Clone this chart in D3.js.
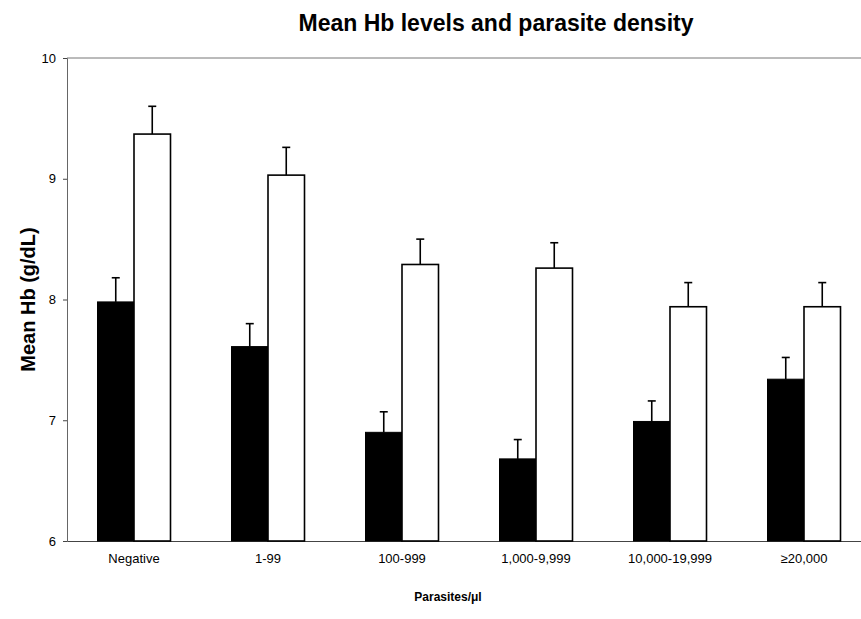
<!DOCTYPE html>
<html>
<head>
<meta charset="utf-8">
<script src="https://cdn.jsdelivr.net/npm/d3@7"></script>
<style>
  body { margin: 0; background: #fff; }
  text { font-family: "Liberation Sans", Arial, sans-serif; fill: #000; }
</style>
</head>
<body>
<div id="chart"></div>
<script>
//data
var categories = ["Negative", "1-99", "100-999", "1,000-9,999", "10,000-19,999", "\u226520,000"];
var darkMeans = [7.98, 7.61, 6.90, 6.68, 6.99, 7.34];
var darkUpper = [8.18, 7.80, 7.07, 6.84, 7.16, 7.52];
var lightMeans = [9.37, 9.03, 8.29, 8.26, 7.94, 7.94];
var lightUpper = [9.60, 9.26, 8.50, 8.47, 8.14, 8.14];
var yTicks = [6, 7, 8, 9, 10];

var svgWidth = 861;
var svgHeight = 619;

var margin = {
  top: 58,
  right: -10,
  bottom: 78,
  left: 67
};

var width = svgWidth - margin.left - margin.right;
var height = svgHeight - margin.top - margin.bottom;

var svg = d3.select("#chart")
  .append("svg")
  .attr("width", svgWidth)
  .attr("height", svgHeight);

var chartGroup = svg.append("g")
  .attr("transform", `translate(${margin.left}, ${margin.top})`);

//Scales
var xBand = d3.scaleBand()
  .domain(categories)
  .range([0, width]);

var xInner = d3.scaleBand()
  .domain(["dark", "light"])
  .range([0, 73])
  .padding(0);

var yScale = d3.scaleLinear()
  .domain([6, 10])
  .range([height, 0]);

//top frame line
chartGroup.append("line")
  .attr("x1", 0)
  .attr("x2", width)
  .attr("y1", 0)
  .attr("y2", 0)
  .attr("stroke", "#777")
  .attr("stroke-width", 1);

//Axes
var leftAxis = d3.axisLeft(yScale)
  .tickValues(yTicks)
  .tickSize(4)
  .tickPadding(7)
  .tickFormat(d3.format("d"));

var yAxisG = chartGroup.append("g").call(leftAxis);
yAxisG.select(".domain").attr("stroke", "#666");
yAxisG.selectAll(".tick line").attr("stroke", "#444");
yAxisG.selectAll("text")
  .style("font-size", "13px")
  .style("font-family", "'Liberation Sans', Arial, sans-serif")
  .attr("fill", "#000");

var bottomAxis = d3.axisBottom(xBand).tickSize(0).tickPadding(13);
var xAxisG = chartGroup.append("g")
  .attr("transform", `translate(0, ${height})`)
  .call(bottomAxis);
xAxisG.select(".domain").attr("stroke", "#444");
xAxisG.selectAll("text")
  .style("font-size", "13px")
  .style("font-family", "'Liberation Sans', Arial, sans-serif")
  .attr("fill", "#000");

//bar rows
var rows = categories.map((c, i) => ({
  cat: c,
  dark: darkMeans[i],
  darkUp: darkUpper[i],
  light: lightMeans[i],
  lightUp: lightUpper[i]
}));

var groups = chartGroup.selectAll(".grp")
  .data(rows)
  .enter()
  .append("g")
  .attr("class", "grp")
  .attr("transform", d => `translate(${xBand(d.cat) + (xBand.bandwidth() - 73) / 2}, 0)`);

//error bars first so bar tops sit over them
["dark", "light"].forEach(k => {
  groups.append("line")
    .attr("x1", xInner(k) + xInner.bandwidth() / 2)
    .attr("x2", xInner(k) + xInner.bandwidth() / 2)
    .attr("y1", d => yScale(d[k]))
    .attr("y2", d => yScale(d[k + "Up"]))
    .attr("stroke", "#000")
    .attr("stroke-width", 1.6);

  groups.append("line")
    .attr("x1", xInner(k) + xInner.bandwidth() / 2 - 4)
    .attr("x2", xInner(k) + xInner.bandwidth() / 2 + 4)
    .attr("y1", d => yScale(d[k + "Up"]))
    .attr("y2", d => yScale(d[k + "Up"]))
    .attr("stroke", "#000")
    .attr("stroke-width", 1.6);
});

groups.append("rect")
  .attr("x", xInner("dark"))
  .attr("y", d => yScale(d.dark))
  .attr("width", xInner.bandwidth())
  .attr("height", d => height - yScale(d.dark))
  .attr("fill", "#000")
  .attr("stroke", "#000")
  .attr("stroke-width", 1);

groups.append("rect")
  .attr("x", xInner("light"))
  .attr("y", d => yScale(d.light))
  .attr("width", xInner.bandwidth())
  .attr("height", d => height - yScale(d.light))
  .attr("fill", "#fff")
  .attr("stroke", "#000")
  .attr("stroke-width", 1.6);

//Titles
svg.append("text")
  .attr("x", 496)
  .attr("y", 31)
  .attr("text-anchor", "middle")
  .style("font-size", "23px")
  .style("font-weight", "bold")
  .text("Mean Hb levels and parasite density");

svg.append("text")
  .attr("transform", `translate(35, ${margin.top + height / 2}) rotate(-90)`)
  .attr("text-anchor", "middle")
  .style("font-size", "20px")
  .style("font-weight", "bold")
  .text("Mean Hb (g/dL)");

svg.append("text")
  .attr("x", 448)
  .attr("y", 601)
  .attr("text-anchor", "middle")
  .style("font-size", "12px")
  .style("font-weight", "bold")
  .text("Parasites/\u03bcl");
</script>
</body>
</html>
